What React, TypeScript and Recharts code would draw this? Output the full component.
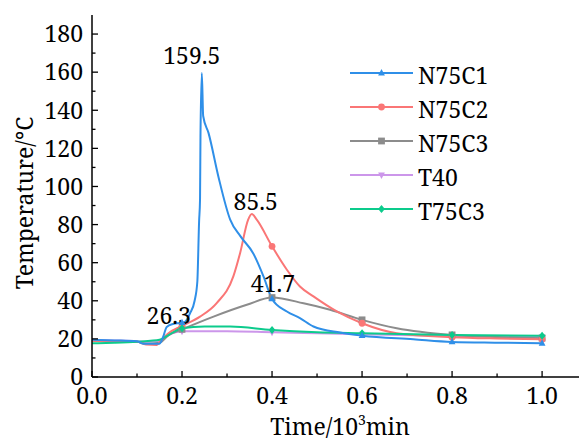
import React from 'react';
import { LineChart, Line, XAxis, YAxis, Legend, ReferenceDot } from 'recharts';

const FONT = 'Noto Serif, DejaVu Serif, serif';

// ---- data (time in 10^3 min, temperature in °C) ----
const n75c1Time = [0, 0.05, 0.1, 0.115, 0.15, 0.158, 0.166, 0.18, 0.2, 0.207, 0.218, 0.228, 0.234, 0.238, 0.24, 0.241, 0.244, 0.247, 0.259, 0.281, 0.307, 0.33, 0.358, 0.381, 0.4, 0.433, 0.462, 0.492, 0.551, 0.6, 0.714, 0.8, 0.9, 1.0];
const n75c1Temp = [19.5, 19.2, 18.8, 17.4, 17.5, 21, 26.3, 27.8, 28.5, 29, 33.6, 40, 50, 82, 93, 126, 159.5, 137, 128, 105, 82.6, 73.8, 65, 52.8, 41, 34.4, 30.9, 26.5, 23.3, 21.7, 19.8, 18.4, 18, 17.7];

const n75c2Time = [0, 0.05, 0.1, 0.12, 0.144, 0.151, 0.17, 0.2, 0.24, 0.277, 0.314, 0.329, 0.347, 0.355, 0.366, 0.4, 0.433, 0.462, 0.492, 0.544, 0.6, 0.677, 0.8, 0.9, 1.0];
const n75c2Temp = [19, 18.8, 18.5, 17, 16.8, 18.6, 23, 26.8, 31.7, 38.8, 52.8, 65, 82.6, 85.5, 82.6, 68.6, 56.3, 47.5, 42.3, 34.4, 28.2, 23, 20.9, 20.2, 19.8];

const n75c3Time = [0, 0.05, 0.1, 0.12, 0.15, 0.17, 0.2, 0.27, 0.344, 0.4, 0.47, 0.529, 0.6, 0.677, 0.8, 0.9, 1.0];
const n75c3Temp = [19, 18.8, 18.5, 17.5, 18, 22, 25, 31.7, 37.9, 41.7, 38.7, 35.3, 30, 25.6, 22.1, 21, 20.4];

const t40Time = [0, 0.05, 0.1, 0.12, 0.15, 0.17, 0.2, 0.3, 0.4, 0.5, 0.6, 0.8, 1.0];
const t40Temp = [19.5, 19.2, 18.8, 18.5, 19, 22, 24, 24, 23.5, 23, 22.5, 21.5, 21];

const t75c3Time = [0, 0.05, 0.1, 0.13, 0.15, 0.17, 0.2, 0.25, 0.307, 0.4, 0.5, 0.6, 0.8, 1.0];
const t75c3Temp = [17.7, 18, 18.5, 19, 19.5, 22, 25.6, 26.5, 26.5, 24.7, 23.5, 23, 22.1, 21.6];

const markerTimes = [0.2, 0.4, 0.6, 0.8, 1.0];

const xTicks = [0, 0.1, 0.2, 0.3, 0.4, 0.5, 0.6, 0.7, 0.8, 0.9, 1.0];
const yTicks = [0, 10, 20, 30, 40, 50, 60, 70, 80, 90, 100, 110, 120, 130, 140, 150, 160, 170, 180];

const peakTimes = [0.244, 0.355, 0.4, 0.166];
const peakValues = [159.5, 85.5, 41.7, 26.3];
const peakTexts = ['159.5', '85.5', '41.7', '26.3'];
const peakOffsets = [
  { dx: -10, dy: -9 },
  { dx: 4, dy: -4.5 },
  { dx: 1, dy: -6 },
  { dx: 2, dy: -3 },
];

type Shape = 'triangle' | 'circle' | 'square' | 'triangleDown' | 'diamond';

const series: { name: string; time: number[]; temp: number[]; color: string; shape: Shape }[] = [
  { name: 'N75C1', time: n75c1Time, temp: n75c1Temp, color: '#2f8fe8', shape: 'triangle' },
  { name: 'N75C2', time: n75c2Time, temp: n75c2Temp, color: '#fa7676', shape: 'circle' },
  { name: 'N75C3', time: n75c3Time, temp: n75c3Temp, color: '#8c8c8c', shape: 'square' },
  { name: 'T40', time: t40Time, temp: t40Temp, color: '#cc96ea', shape: 'triangleDown' },
  { name: 'T75C3', time: t75c3Time, temp: t75c3Temp, color: '#0ccb8c', shape: 'diamond' },
];

const drawOrder = ['T40', 'N75C3', 'N75C2', 'T75C3', 'N75C1'];

const toRows = (time: number[], temp: number[]) => time.map((t, i) => ({ t, v: temp[i] }));

function Marker({ shape, x, y, color }: { shape: Shape; x: number; y: number; color: string }) {
  const s = 3.4;
  switch (shape) {
    case 'triangle':
      return <polygon points={`${x},${y - s - 0.6} ${x - s},${y + s * 0.7} ${x + s},${y + s * 0.7}`} fill={color} />;
    case 'triangleDown':
      return <polygon points={`${x},${y + s + 0.6} ${x - s},${y - s * 0.7} ${x + s},${y - s * 0.7}`} fill={color} />;
    case 'circle':
      return <circle cx={x} cy={y} r={s} fill={color} />;
    case 'square':
      return <rect x={x - s} y={y - s} width={2 * s} height={2 * s} fill={color} />;
    case 'diamond':
    default:
      return <polygon points={`${x},${y - s - 0.6} ${x + s},${y} ${x},${y + s + 0.6} ${x - s},${y}`} fill={color} />;
  }
}

const makeDot = (shape: Shape, color: string) => (props: any) => {
  const { cx, cy, payload, index } = props;
  const show = payload && markerTimes.some((m) => Math.abs(m - payload.t) < 1e-6);
  if (!show || cx == null || cy == null) return <g key={`e${index}`} />;
  return (
    <g key={`d${index}`}>
      <Marker shape={shape} x={cx} y={cy} color={color} />
    </g>
  );
};

const X_MARGIN = 11;
const Y_MARGIN = 9;
const TICK_FS = 23;
const TITLE_FS = 23;

function XTick(props: any) {
  const { x, y, payload } = props;
  const v = payload.value as number;
  const major = Math.round(v * 10) % 2 === 0;
  const ay = y - X_MARGIN;
  return (
    <g>
      <line x1={x} y1={ay} x2={x} y2={ay - (major ? 6 : 3.5)} stroke="#000" strokeWidth={1.3} />
      {major && (
        <text x={x} y={y} dy="0.71em" textAnchor="middle" fontSize={TICK_FS} fontFamily={FONT} fill="#000">
          {v.toFixed(1)}
        </text>
      )}
    </g>
  );
}

function YTick(props: any) {
  const { x, y, payload } = props;
  const v = payload.value as number;
  const major = v % 20 === 0;
  const ax = x + Y_MARGIN;
  return (
    <g>
      <line x1={ax} y1={y} x2={ax + (major ? 6 : 3.5)} y2={y} stroke="#000" strokeWidth={1.3} />
      {major && (
        <text x={x} y={y} dy="0.36em" textAnchor="end" fontSize={TICK_FS} fontFamily={FONT} fill="#000">
          {v}
        </text>
      )}
    </g>
  );
}

function LegendBox() {
  return (
    <div>
      {series.map((s) => (
        <div key={s.name} style={{ display: 'flex', alignItems: 'center', height: 34 }}>
          <svg width={63} height={34} style={{ display: 'block' }}>
            <line x1={0} y1={17} x2={63} y2={17} stroke={s.color} strokeWidth={2} />
            <Marker shape={s.shape} x={31.5} y={17} color={s.color} />
          </svg>
          <span style={{ marginLeft: 5, fontSize: 23, lineHeight: '34px', color: '#000', position: 'relative', top: 2, fontFamily: FONT, whiteSpace: 'nowrap' }}>
            {s.name}
          </span>
        </div>
      ))}
    </div>
  );
}

export default function App() {
  const ordered = drawOrder.map((n) => series.find((s) => s.name === n)!);
  return (
    <div style={{ position: 'absolute', left: 0, top: 0, width: 579, height: 439, background: '#fff' }}>
      <LineChart width={579} height={439} margin={{ top: 15, right: 0, left: 32, bottom: 32 }}>
        <XAxis
          type="number"
          dataKey="t"
          domain={[0, 1.082]}
          ticks={xTicks}
          interval={0}
          allowDataOverflow
          height={30}
          tickSize={0}
          tickMargin={X_MARGIN}
          tickLine={false}
          axisLine={{ stroke: '#000', strokeWidth: 1.5 }}
          tick={<XTick />}
          label={{
            content: () => (
              <text x={340} y={435} textAnchor="middle" fontSize={TITLE_FS} fontFamily={FONT} fill="#000">
                Time/10
                <tspan fontSize={14} dy={-10}>3</tspan>
                <tspan dy={10}>min</tspan>
              </text>
            ),
          }}
        />
        <YAxis
          type="number"
          domain={[0, 190]}
          ticks={yTicks}
          interval={0}
          width={60}
          tickSize={0}
          tickMargin={Y_MARGIN}
          tickLine={false}
          axisLine={{ stroke: '#000', strokeWidth: 1.5 }}
          tick={<YTick />}
          label={{
            content: () => (
              <text
                x={33}
                y={203}
                transform="rotate(-90, 33, 203)"
                textAnchor="middle"
                fontSize={TITLE_FS}
                fontFamily={FONT}
                fill="#000"
              >
                Temperature/°C
              </text>
            ),
          }}
        />
        {ordered.map((s) => (
          <Line
            key={s.name}
            name={s.name}
            data={toRows(s.time, s.temp)}
            dataKey="v"
            type="monotone"
            stroke={s.color}
            strokeWidth={2}
            dot={makeDot(s.shape, s.color)}
            activeDot={false}
            isAnimationActive={false}
          />
        ))}
        {peakTimes.map((t, i) => (
          <ReferenceDot
            key={`pk${i}`}
            x={t}
            y={peakValues[i]}
            r={0}
            fill="none"
            stroke="none"
            ifOverflow="visible"
            label={(p: any) => {
              const vb = p.viewBox || { x: 0, y: 0 };
              return (
                <text
                  x={vb.x + peakOffsets[i].dx}
                  y={vb.y + peakOffsets[i].dy}
                  textAnchor="middle"
                  fontSize={TICK_FS}
                  fontFamily={FONT}
                  fill="#000"
                >
                  {peakTexts[i]}
                </text>
              );
            }}
          />
        ))}
        <Legend
          layout="horizontal"
          verticalAlign="middle"
          align="center"
          wrapperStyle={{ left: 350, top: 56, width: 200, height: 170 }}
          content={() => <LegendBox />}
        />
      </LineChart>
    </div>
  );
}
